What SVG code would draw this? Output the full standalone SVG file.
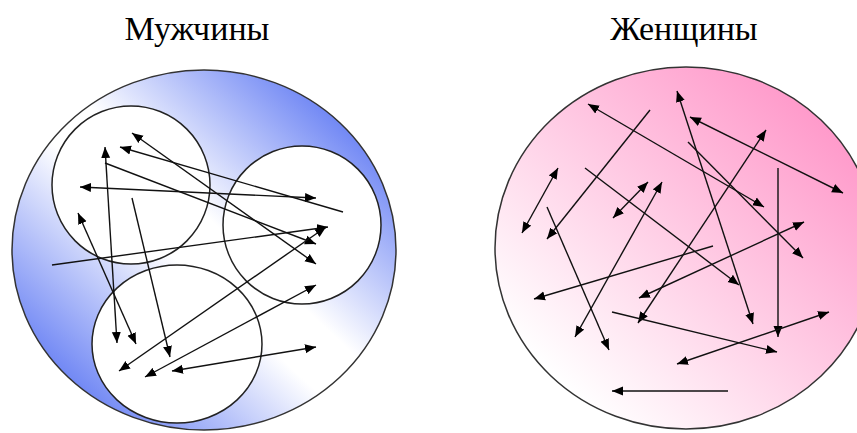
<svg xmlns="http://www.w3.org/2000/svg" width="857" height="433" viewBox="0 0 857 433">
<style>
.title{font-family:"Liberation Serif","Times New Roman",serif;font-size:34px;fill:#000;text-anchor:middle}
.big{stroke:#333;stroke-width:1.5}
.inner{fill:#fff;stroke:#222;stroke-width:1.5}
.c line{stroke:#111;stroke-width:1.4;fill:none}
.a{marker-end:url(#ah)}
.d{marker-start:url(#ah);marker-end:url(#ah)}
</style>
<defs>
<linearGradient id="gBlue" x1="1" y1="0" x2="0" y2="1">
<stop offset="0.13" stop-color="#6a82f4"/>
<stop offset="0.45" stop-color="#ffffff"/>
<stop offset="0.55" stop-color="#ffffff"/>
<stop offset="0.87" stop-color="#6a82f4"/>
</linearGradient>
<linearGradient id="gPink" x1="1" y1="0" x2="0" y2="1">
<stop offset="0.15" stop-color="#ff9bcb"/>
<stop offset="0.85" stop-color="#ffffff"/>
</linearGradient>
<marker id="ah" markerUnits="userSpaceOnUse" markerWidth="12" markerHeight="10" refX="11" refY="4.5" orient="auto-start-reverse" viewBox="0 0 12 9">
<path d="M0,0 L11,4.5 L0,9 z" fill="#000"/>
</marker>
</defs>
<text class="title" x="197" y="40">Мужчины</text>
<text class="title" x="684" y="40">Женщины</text>
<g id="men">
<ellipse class="big" cx="204" cy="250" rx="192" ry="180" fill="url(#gBlue)"/>
<g id="men-group-1"><circle class="inner" cx="131" cy="185" r="79"/></g>
<g id="men-group-2"><circle class="inner" cx="302" cy="225" r="79"/></g>
<g id="men-group-3"><ellipse class="inner" cx="177" cy="344" rx="85" ry="79"/></g>
</g>
<g id="women">
<ellipse class="big" cx="686" cy="248" rx="191" ry="181" fill="url(#gPink)"/>
</g>
<g id="connectors" class="c">
<line class="d" x1="80" y1="187" x2="316" y2="198"/>
<line class="a" x1="343" y1="212" x2="120" y2="147"/>
<line class="d" x1="132" y1="133" x2="316" y2="264"/>
<line class="a" x1="105" y1="163" x2="316" y2="244"/>
<line class="a" x1="52" y1="265" x2="328" y2="227"/>
<line class="d" x1="105" y1="147" x2="117" y2="343"/>
<line class="d" x1="78" y1="213" x2="136" y2="344"/>
<line class="a" x1="132" y1="198" x2="170" y2="357"/>
<line class="d" x1="119" y1="371" x2="326" y2="227"/>
<line class="d" x1="145" y1="377" x2="316" y2="285"/>
<line class="d" x1="172" y1="371" x2="316" y2="347"/>

<line class="d" x1="588" y1="104" x2="764" y2="207"/>
<line class="a" x1="650" y1="110" x2="547" y2="239"/>
<line class="d" x1="522" y1="233" x2="558" y2="168"/>
<line class="a" x1="585" y1="168" x2="739" y2="285"/>
<line class="d" x1="613" y1="218" x2="648" y2="182"/>
<line class="d" x1="662" y1="182" x2="575" y2="337"/>
<line class="a" x1="547" y1="207" x2="609" y2="350"/>
<line class="d" x1="677" y1="91" x2="753" y2="324"/>
<line class="d" x1="690" y1="117" x2="843" y2="193"/>
<line class="d" x1="766" y1="130" x2="638" y2="323"/>
<line class="a" x1="688" y1="142" x2="803" y2="258"/>
<line class="a" x1="778" y1="168" x2="778" y2="337"/>
<line class="d" x1="804" y1="222" x2="639" y2="298"/>
<line class="a" x1="713" y1="246" x2="534" y2="299"/>
<line class="a" x1="612" y1="312" x2="777" y2="352"/>
<line class="d" x1="677" y1="364" x2="829" y2="312"/>
<line class="a" x1="728" y1="391" x2="612" y2="391"/>
</g>
</svg>
